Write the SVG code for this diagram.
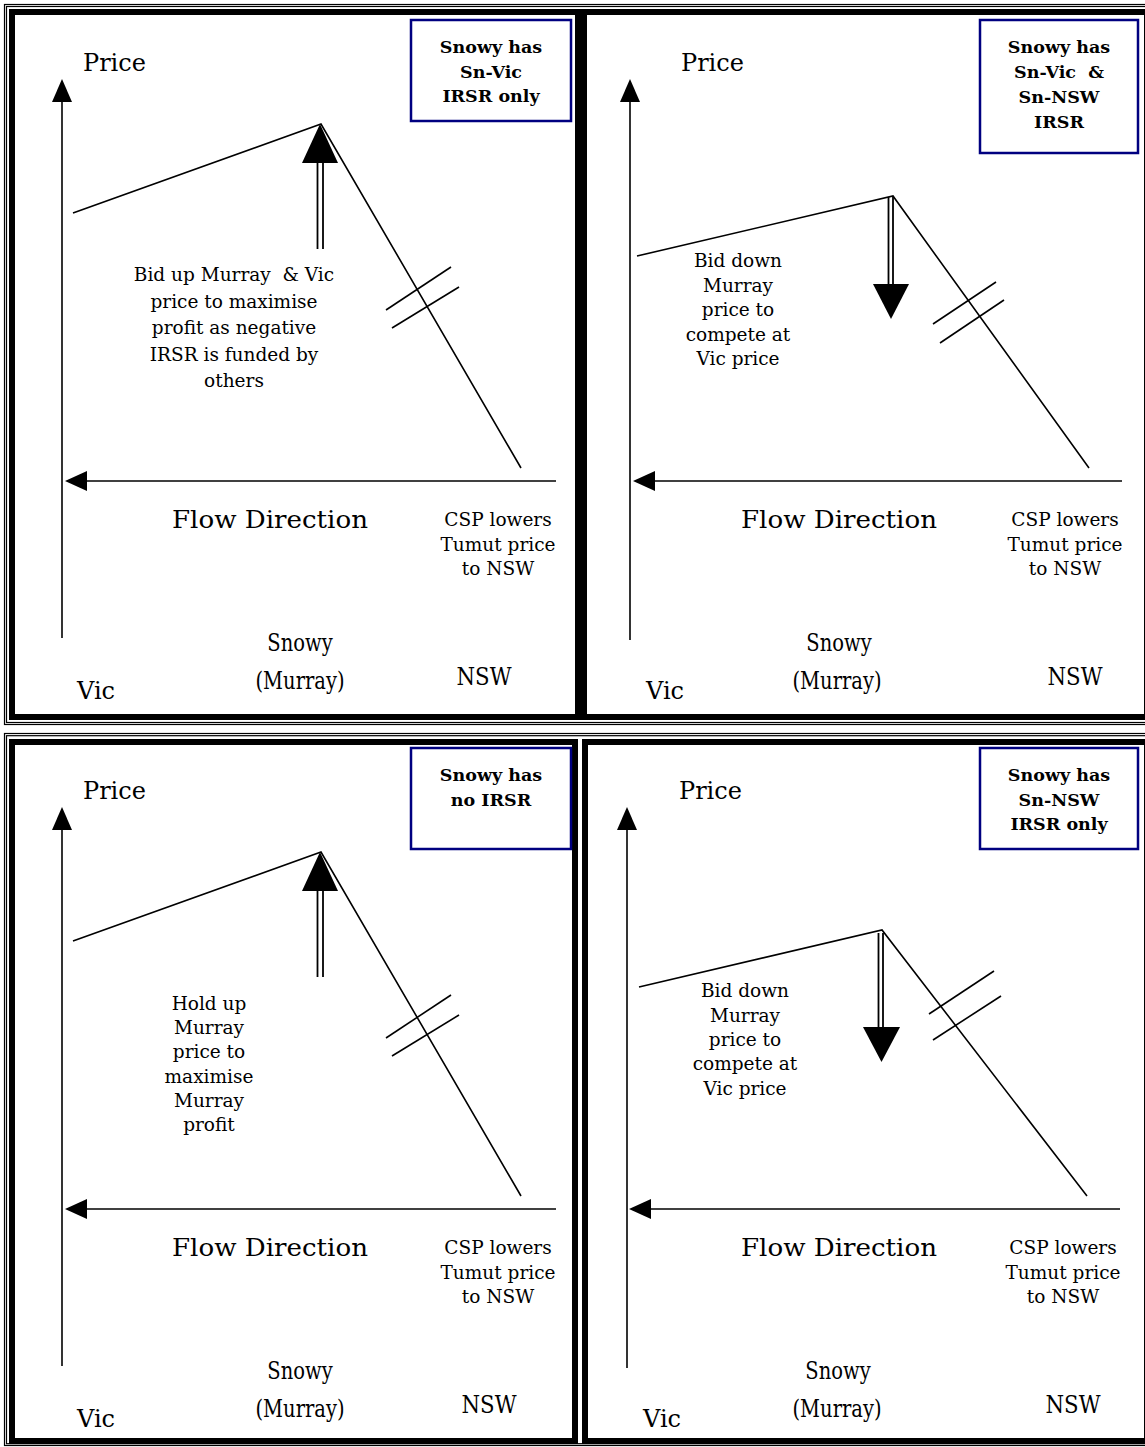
<svg xmlns="http://www.w3.org/2000/svg" width="1145" height="1447" viewBox="0 0 1145 1447">
<style>
.bg{fill:#ffffff}
.thin{fill:none;stroke:#000;stroke-width:1.2}
.thick{fill:none;stroke:#000;stroke-width:6}
.ln{fill:none;stroke:#000;stroke-width:1.6}
.shaft{fill:none;stroke:#000;stroke-width:1.8}
.head{fill:#000;stroke:none}
.box{fill:#fff;stroke:#000080;stroke-width:2.5}
.lbl{font-family:"DejaVu Serif","Liberation Serif",serif;font-size:24px;fill:#000}
.cn{font-size:25px;text-anchor:middle}
.flow{font-size:25px}
.ann{font-family:"DejaVu Serif","Liberation Serif",serif;font-size:18.5px;fill:#000;text-anchor:middle}
.bx{font-family:"DejaVu Serif","Liberation Serif",serif;font-size:17.5px;font-weight:bold;fill:#000;text-anchor:middle}
.mid{text-anchor:middle}
</style>
<rect class="bg" x="0" y="0" width="1145" height="1447"/>

<g id="frames">
  <rect class="thin" x="4.5" y="4.5" width="1150" height="720"/>
  <rect class="thin" x="6.5" y="6.5" width="1150" height="716"/>
  <rect class="thin" x="4.5" y="733.5" width="1150" height="712"/>
  <rect class="thin" x="6.5" y="735.7" width="1150" height="708"/>
</g>

<g id="panel-top-left">
  <rect class="thick" x="12" y="12" width="566" height="705"/>
  <rect class="box" x="411" y="20" width="160" height="101"/>
  <text class="bx" x="491" y="53">Snowy has</text>
  <text class="bx" x="491" y="78">Sn-Vic</text>
  <text class="bx" x="491" y="102">IRSR only</text>
  <text class="lbl" x="83" y="71">Price</text>
  <polyline class="ln" points="73,213 321,124 521,468"/>
  <line class="ln" x1="386" y1="310" x2="451" y2="267"/>
  <line class="ln" x1="392" y1="328" x2="459" y2="287"/>
  <text class="ann" x="234" y="281" xml:space="preserve">Bid up Murray  &amp; Vic</text>
  <text class="ann" x="234" y="307.5">price to maximise</text>
  <text class="ann" x="234" y="334">profit as negative</text>
  <text class="ann" x="234" y="360.5">IRSR is funded by</text>
  <text class="ann" x="234" y="387">others</text>
  <text class="lbl flow" x="172" y="528" textLength="196" lengthAdjust="spacingAndGlyphs">Flow Direction</text>
  <text class="ann" x="498" y="526">CSP lowers</text>
  <text class="ann" x="498" y="551">Tumut price</text>
  <text class="ann" x="498" y="575">to NSW</text>
  <text class="lbl cn" transform="translate(300,651) scale(0.78,1)">Snowy</text>
  <text class="lbl cn" transform="translate(300,689) scale(0.78,1)">(Murray)</text>
  <text class="lbl cn" transform="translate(484,685) scale(0.85,1)">NSW</text>
  <text class="lbl" x="77" y="699">Vic</text>
</g>

<g id="panel-top-right">
  <rect class="thick" x="584" y="12" width="563" height="705"/>
  <rect class="box" x="980" y="20" width="158" height="133"/>
  <text class="bx" x="1059" y="53">Snowy has</text>
  <text class="bx" x="1059" y="78" xml:space="preserve">Sn-Vic  &amp;</text>
  <text class="bx" x="1059" y="103">Sn-NSW</text>
  <text class="bx" x="1059" y="128">IRSR</text>
  <text class="lbl" x="681" y="71">Price</text>
  <polyline class="ln" points="637,256 893,196 1089,468"/>
  <line class="ln" x1="933" y1="324" x2="996" y2="282"/>
  <line class="ln" x1="940" y1="343" x2="1004" y2="300"/>
  <text class="ann" x="738" y="267">Bid down</text>
  <text class="ann" x="738" y="291.5">Murray</text>
  <text class="ann" x="738" y="316">price to</text>
  <text class="ann" x="738" y="340.5">compete at</text>
  <text class="ann" x="738" y="365">Vic price</text>
  <text class="lbl flow" x="741" y="528" textLength="196" lengthAdjust="spacingAndGlyphs">Flow Direction</text>
  <text class="ann" x="1065" y="526">CSP lowers</text>
  <text class="ann" x="1065" y="551">Tumut price</text>
  <text class="ann" x="1065" y="575">to NSW</text>
  <text class="lbl cn" transform="translate(839,651) scale(0.78,1)">Snowy</text>
  <text class="lbl cn" transform="translate(837,689) scale(0.78,1)">(Murray)</text>
  <text class="lbl cn" transform="translate(1075,685) scale(0.85,1)">NSW</text>
  <text class="lbl" x="646" y="699">Vic</text>
</g>

<g id="panel-bottom-left">
  <rect class="thick" x="12" y="742" width="563" height="699"/>
  <rect class="box" x="411" y="748" width="160" height="101"/>
  <text class="bx" x="491" y="781">Snowy has</text>
  <text class="bx" x="491" y="806">no IRSR</text>
  <text class="lbl" x="83" y="799">Price</text>
  <polyline class="ln" points="73,941 321,852 521,1196"/>
  <line class="ln" x1="386" y1="1038" x2="451" y2="995"/>
  <line class="ln" x1="392" y1="1056" x2="459" y2="1015"/>
  <text class="ann" x="209" y="1010">Hold up</text>
  <text class="ann" x="209" y="1034">Murray</text>
  <text class="ann" x="209" y="1058">price to</text>
  <text class="ann" x="209" y="1083">maximise</text>
  <text class="ann" x="209" y="1107">Murray</text>
  <text class="ann" x="209" y="1131">profit</text>
  <text class="lbl flow" x="172" y="1256" textLength="196" lengthAdjust="spacingAndGlyphs">Flow Direction</text>
  <text class="ann" x="498" y="1254">CSP lowers</text>
  <text class="ann" x="498" y="1279">Tumut price</text>
  <text class="ann" x="498" y="1303">to NSW</text>
  <text class="lbl cn" transform="translate(300,1379) scale(0.78,1)">Snowy</text>
  <text class="lbl cn" transform="translate(300,1417) scale(0.78,1)">(Murray)</text>
  <text class="lbl cn" transform="translate(489,1413) scale(0.85,1)">NSW</text>
  <text class="lbl" x="77" y="1427">Vic</text>
</g>

<g id="panel-bottom-right">
  <rect class="thick" x="585" y="742" width="562" height="699"/>
  <rect class="box" x="980" y="748" width="158" height="101"/>
  <text class="bx" x="1059" y="781">Snowy has</text>
  <text class="bx" x="1059" y="806">Sn-NSW</text>
  <text class="bx" x="1059" y="830">IRSR only</text>
  <text class="lbl" x="679" y="799">Price</text>
  <polyline class="ln" points="639,987 882,930 1087,1196"/>
  <line class="ln" x1="929" y1="1014" x2="994" y2="971"/>
  <line class="ln" x1="933" y1="1040" x2="1001" y2="996"/>
  <text class="ann" x="745" y="997">Bid down</text>
  <text class="ann" x="745" y="1022">Murray</text>
  <text class="ann" x="745" y="1046">price to</text>
  <text class="ann" x="745" y="1070">compete at</text>
  <text class="ann" x="745" y="1095">Vic price</text>
  <text class="lbl flow" x="741" y="1256" textLength="196" lengthAdjust="spacingAndGlyphs">Flow Direction</text>
  <text class="ann" x="1063" y="1254">CSP lowers</text>
  <text class="ann" x="1063" y="1279">Tumut price</text>
  <text class="ann" x="1063" y="1303">to NSW</text>
  <text class="lbl cn" transform="translate(838,1379) scale(0.78,1)">Snowy</text>
  <text class="lbl cn" transform="translate(837,1417) scale(0.78,1)">(Murray)</text>
  <text class="lbl cn" transform="translate(1073,1413) scale(0.85,1)">NSW</text>
  <text class="lbl" x="643" y="1427">Vic</text>
</g>

<g id="connectors">
  <line class="ln" x1="62" y1="100" x2="62" y2="638"/>
  <polygon class="head" points="62,79 52,102 72,102"/>
  <line class="ln" x1="86" y1="481" x2="556" y2="481"/>
  <polygon class="head" points="65,481 87,471 87,491"/>
  <line class="shaft" x1="317.5" y1="160" x2="317.5" y2="249"/>
  <line class="shaft" x1="323" y1="160" x2="323" y2="249"/>
  <polygon class="head" points="320,124 302,163 338,163"/>
  <line class="ln" x1="630" y1="100" x2="630" y2="640"/>
  <polygon class="head" points="630,79 620,102 640,102"/>
  <line class="ln" x1="654" y1="481" x2="1122" y2="481"/>
  <polygon class="head" points="633,481 655,471 655,491"/>
  <line class="shaft" x1="888.5" y1="197" x2="888.5" y2="287"/>
  <line class="shaft" x1="893" y1="197" x2="893" y2="287"/>
  <polygon class="head" points="873,284 909,284 891,319"/>
  <line class="ln" x1="62" y1="828" x2="62" y2="1366"/>
  <polygon class="head" points="62,807 52,830 72,830"/>
  <line class="ln" x1="86" y1="1209" x2="556" y2="1209"/>
  <polygon class="head" points="65,1209 87,1199 87,1219"/>
  <line class="shaft" x1="317.5" y1="888" x2="317.5" y2="977"/>
  <line class="shaft" x1="323" y1="888" x2="323" y2="977"/>
  <polygon class="head" points="320,852 302,891 338,891"/>
  <line class="ln" x1="627" y1="828" x2="627" y2="1368"/>
  <polygon class="head" points="627,807 617,830 637,830"/>
  <line class="ln" x1="650" y1="1209" x2="1120" y2="1209"/>
  <polygon class="head" points="629,1209 651,1199 651,1219"/>
  <line class="shaft" x1="878.5" y1="933" x2="878.5" y2="1030"/>
  <line class="shaft" x1="883" y1="933" x2="883" y2="1030"/>
  <polygon class="head" points="863,1027 900,1027 881.5,1062"/>
</g>
</svg>
